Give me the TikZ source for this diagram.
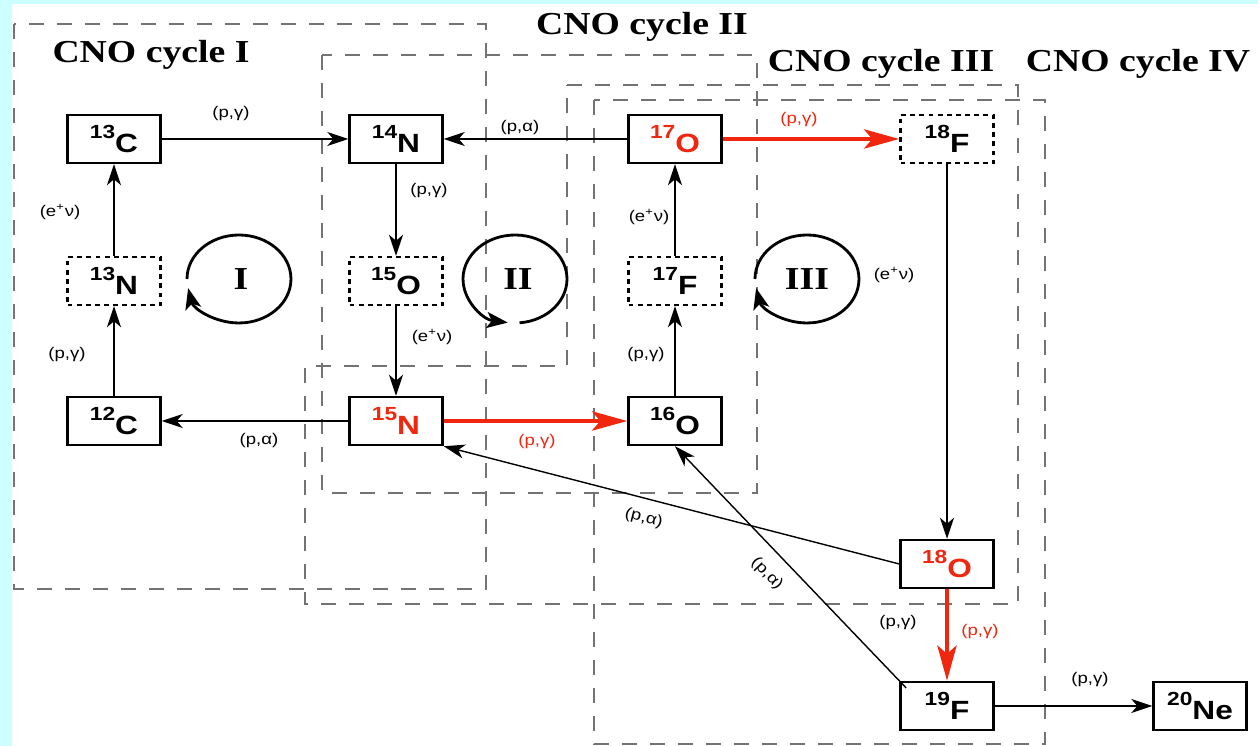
\documentclass[tikz,border=0pt]{standalone}
\usepackage{fontspec}
\setmainfont{Liberation Sans}[FakeStretch=1.2]
\newfontfamily\cycfont{Liberation Serif}[FakeStretch=1.18]
\usetikzlibrary{arrows.meta}
\definecolor{cnored}{RGB}{240,38,14}
\definecolor{framecyan}{RGB}{204,255,255}
\definecolor{cyclegray}{RGB}{115,115,115}
\newcommand{\nuc}[2]{\raisebox{7.8pt}{\fontsize{10.8}{11}\selectfont #1}#2}

\begin{document}
\begin{tikzpicture}[x=0.02cm, y=0.02cm]
    \tikzset{
        nucl/.style={
            draw, line width=1.4pt, fill=white,
            minimum width=1.86cm, minimum height=0.96cm,
            inner sep=0pt, font=\fontsize{15}{16}\selectfont\bfseries
        },
        decay/.style={
            nucl, dash pattern=on 2.8pt off 2.4pt
        },
        hot/.style={text=cnored},
        reac/.style={
            -{Stealth[length=0.42cm, width=0.28cm, inset=0.12cm]},
            line width=0.8pt
        },
        redreac/.style={
            -{Stealth[length=0.7cm, width=0.38cm, inset=0.16cm]},
            line width=2.8pt, draw=cnored
        },
        rate/.style={font=\fontsize{8.8}{9}\selectfont, inner sep=1pt},
        cycbox/.style={
            draw=cyclegray, line width=1pt,
            dash pattern=on 0.3cm off 0.26cm
        },
        cyctitle/.style={font=\cycfont\fontsize{18.2}{19}\selectfont\bfseries, anchor=base},
        cycname/.style={font=\cycfont\fontsize{18.2}{19}\selectfont\bfseries},
        cycarrow/.style={
            -{Stealth[length=0.42cm, width=0.32cm, inset=0.1cm]},
            line width=1.6pt
        },
    }

    % ==== frame ====
    \fill[framecyan] (0,0) rectangle (1258,746);
    \fill[white] (12,0) rectangle (1258,742);
    \useasboundingbox (0,0) rectangle (1258,746);

    % ==== cycle regions ====
    \draw[cycbox] (14,722) rectangle (486,157);
    \draw[cycbox] (322,691) rectangle (757,253);
    \draw[cycbox] (567,661) -- (1018,661) -- (1018,142) -- (305,142)
        -- (305,380) -- (567,380) -- cycle;
    \draw[cycbox] (594,646) rectangle (1045,2);

    \node[cyctitle] (tI) at (151,683) {CNO cycle I};
    \node[cyctitle] (tII) at (642,711) {CNO cycle II};
    \node[cyctitle] (tIII) at (881,674) {CNO cycle III};
    \node[cyctitle] (tIV) at (1138,674) {CNO cycle IV};

    % ==== nuclei ====
    \node[nucl] (c13) at (114,607) {\nuc{13}{C}};
    \node[nucl] (n14) at (396,607) {\nuc{14}{N}};
    \node[nucl, hot] (o17) at (675,607) {\nuc{17}{O}};
    \node[decay] (f18) at (947,607) {\nuc{18}{F}};
    \node[decay] (n13) at (114,465) {\nuc{13}{N}};
    \node[decay] (o15) at (396,465) {\nuc{15}{O}};
    \node[decay] (f17) at (675,465) {\nuc{17}{F}};
    \node[nucl] (c12) at (114,325) {\nuc{12}{C}};
    \node[nucl, hot] (n15) at (396,325) {\nuc{15}{N}};
    \node[nucl] (o16) at (675,325) {\nuc{16}{O}};
    \node[nucl, hot] (o18) at (947,182) {\nuc{18}{O}};
    \node[nucl] (f19) at (947,40) {\nuc{19}{F}};
    \node[nucl] (ne20) at (1200,40) {\nuc{20}{Ne}};

    % ==== reactions ====
    \draw[reac] (c13) -- (n14);
    \draw[reac] (n14) -- (o15);
    \draw[reac] (o15) -- (n15);
    \draw[reac] (n15) -- (c12);
    \draw[reac] (c12) -- (n13);
    \draw[reac] (n13) -- (c13);
    \draw[reac] (o17) -- (n14);
    \draw[reac] (o16) -- (f17);
    \draw[reac] (f17) -- (o17);
    \draw[reac] (f18) -- (o18);
    \draw[reac] (o18.west) -- node[rate, sloped, below=0.2cm, pos=0.55] (pa1) {(p,α)} (n15.south east);
    \draw[reac, shorten <=-0.2cm] (f19.north west) -- node[rate, sloped, below=0.24cm, pos=0.52] (pa2) {(p,α)} (o16.south);
    \draw[reac] (f19) -- (ne20);
    \draw[redreac] (n15) -- (o16);
    \draw[redreac] (o17) -- (f18);
    \draw[redreac] (o18) -- (f19);

    \node[rate] (r1) at (231,632) {(p,γ)};
    \node[rate] (r2) at (520,618) {(p,α)};
    \node[rate] (r3) at (429,555) {(p,γ)};
    \node[rate] (r4) at (60,534) {(e\textsuperscript{+}ν)};
    \node[rate] (r5) at (67,391) {(p,γ)};
    \node[rate] (r6) at (432,409) {(e\textsuperscript{+}ν)};
    \node[rate] (r7) at (259,305) {(p,α)};
    \node[rate, text=cnored] (r8) at (537,304) {(p,γ)};
    \node[rate] (r9) at (646,391) {(p,γ)};
    \node[rate] (r10) at (649,529) {(e\textsuperscript{+}ν)};
    \node[rate, text=cnored] (r11) at (799,626) {(p,γ)};
    \node[rate] (r12) at (894,471) {(e\textsuperscript{+}ν)};
    \node[rate] (r13) at (898,123) {(p,γ)};
    \node[rate, text=cnored] (r14) at (980,114) {(p,γ)};
    \node[rate] (r15) at (1090,66) {(p,γ)};

    % ==== cycle loops ====
    \coordinate (cI) at (239,467);
    \coordinate (cII) at (515,467);
    \coordinate (cIII) at (807,467);
    \draw[cycarrow] (cI) ++(180:52 and 44)
        arc[start angle=180, end angle=-168, x radius=1.04cm, y radius=0.88cm];
    \draw[cycarrow] (cII) ++(-85:52 and 44)
        arc[start angle=-85, end angle=262, x radius=1.04cm, y radius=0.88cm];
    \draw[cycarrow] (cIII) ++(180:52 and 44)
        arc[start angle=180, end angle=-168, x radius=1.04cm, y radius=0.88cm];
    \node[cycname] (nI) at (241,467) {I};
    \node[cycname] (nII) at (518,467) {II};
    \node[cycname] (nIII) at (807,467) {III};

\end{tikzpicture}
\end{document}
